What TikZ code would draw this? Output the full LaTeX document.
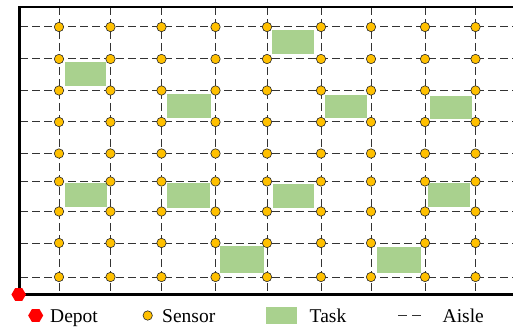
\documentclass[tikz,border=0pt]{standalone}
\usepackage{fontspec}
\setmainfont{Liberation Serif}
\usetikzlibrary{shapes.geometric}
\definecolor{sensorgold}{HTML}{FFC000}
\definecolor{taskgreen}{HTML}{A9D18E}
\definecolor{depotred}{HTML}{FF0000}
\tikzset{
  aisle/.style={draw=black!80, line width=1pt, dash pattern=on 8pt off 4pt},
  frameline/.style={draw=black, line width=2.2pt},
  sensor/.style={circle, fill=sensorgold, draw=black!85, line width=0.6pt,
    inner sep=0pt, minimum size=9.4pt},
  taskbox/.style={fill=taskgreen},
  depot/.style={regular polygon, regular polygon sides=6, fill=depotred,
    inner sep=0pt, minimum size=15pt},
  legendtext/.style={anchor=base west, inner sep=0pt,
    font=\fontsize{19.5}{22}\selectfont}
}
\begin{document}
\begin{tikzpicture}[x=1pt,y=-1pt]
\useasboundingbox (0,0) rectangle (513,331);

% aisles: vertical and horizontal dashed lines
\foreach \x in {59,110.5,161.5,215.5,267,321,371,425,475.5}
  \draw[aisle] (\x,7) -- (\x,294.5);
\foreach \y in {27,59,90.5,122,153.5,181.5,211.5,243,277}
  \draw[aisle] (20,\y) -- (513,\y);

% tasks
\foreach \xa/\ya/\xb/\yb in {65/62/106/86, 167/94/211/118, 272/30/314/54,
    325/95/367/118, 430/96/472/119, 65/183/107/207, 167/183/210/208,
    273/184/314/208, 220/246/264/273, 428/183/470/207, 377/247/421/273}
  \path[taskbox] (\xa,\ya) rectangle (\xb,\yb);

% warehouse boundary
\draw[frameline] (513,7) -- (19.5,7) -- (19.5,294.5) -- (513,294.5);

% sensors at every aisle crossing
\foreach \x [count=\i] in {59,110.5,161.5,215.5,267,321,371,425,475.5}
  \foreach \y [count=\j] in {27,59,90.5,122,153.5,181.5,211.5,243,277}
    \node[sensor] (s-\i-\j) at (\x,\y) {};

% depot
\node[depot, minimum size=14.5pt] (depot) at (18.7,294.5) {};

% legend
\node[depot] (lg-depot) at (35.7,315.5) {};
\node[legendtext] (lg-depot-t) at (50,322) {Depot};
\node[sensor] (lg-sensor) at (147.7,315.5) {};
\node[legendtext] (lg-sensor-t) at (162,322) {Sensor};
\path[taskbox] (266,307.3) rectangle (296.7,324.3);
\node[legendtext] (lg-task-t) at (309.5,322) {Task};
\coordinate (lg-aisle-a) at (398.3,315.5);
\coordinate (lg-aisle-b) at (422,315.5);
\draw[draw=black!80, line width=1pt, dash pattern=on 9pt off 5pt] (lg-aisle-a) -- (lg-aisle-b);
\node[legendtext] (lg-aisle-t) at (442.5,322) {Aisle};
\end{tikzpicture}
\end{document}
